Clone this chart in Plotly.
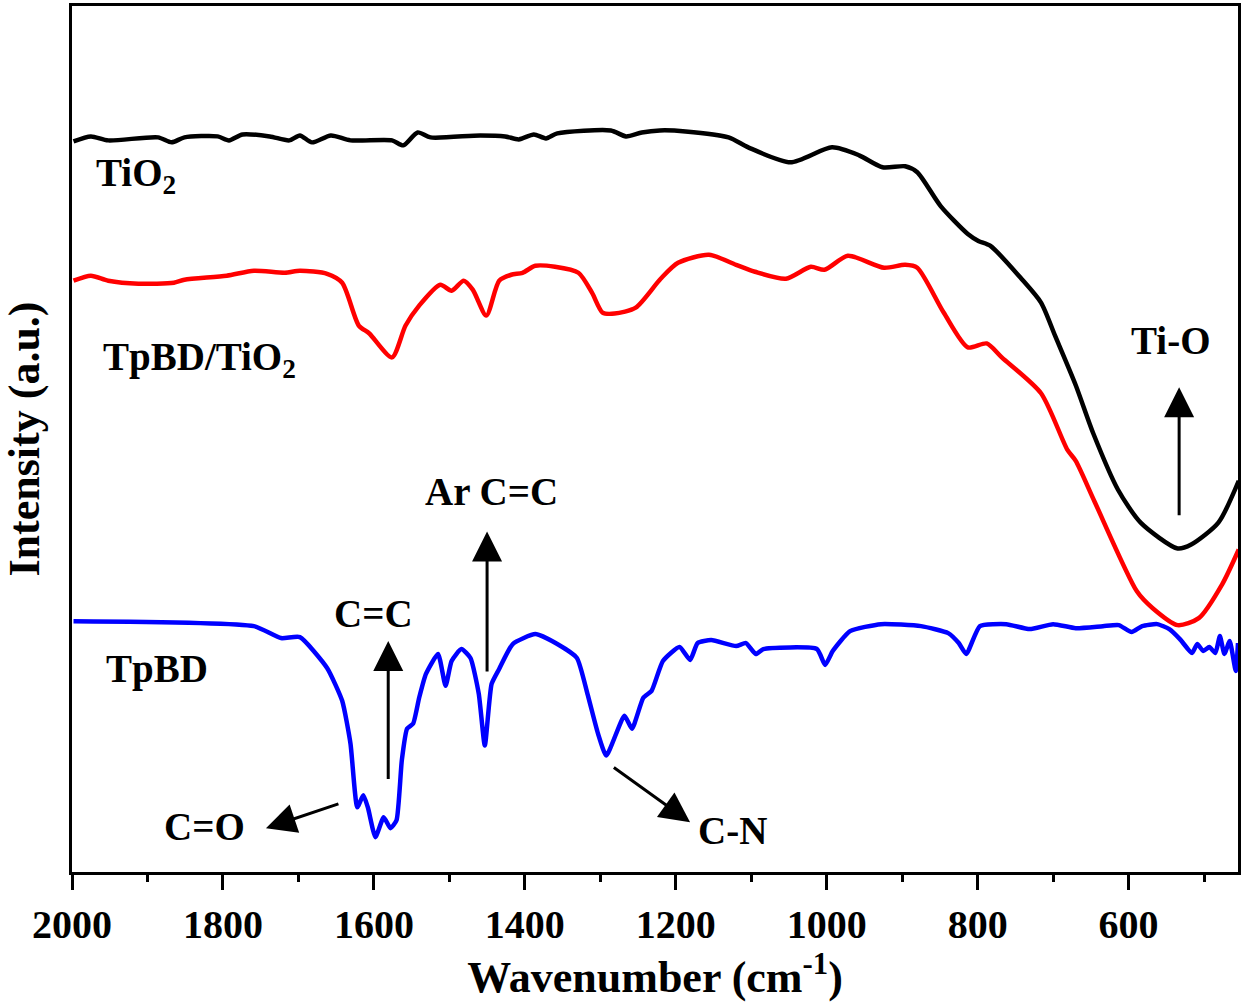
import plotly.graph_objects as go

# FTIR spectra, wavenumber (cm-1) vs intensity (a.u.)
tio2_wn = [1998, 1975, 1952, 1886, 1868, 1851, 1807, 1792, 1774, 1738, 1712, 1698, 1682, 1657,
           1631, 1576, 1561, 1542, 1525, 1459, 1426, 1408, 1388, 1372, 1357, 1286, 1266, 1245,
           1221, 1187, 1130, 1104, 1048, 993, 957, 926, 896, 880, 849, 813, 799, 783, 742, 716,
           697, 670, 647, 614, 584, 535, 517, 481, 454]
tio2_int = [73.4, 73.9, 73.5, 73.8, 73.3, 73.8, 73.9, 73.5, 74.1, 73.9, 73.5, 74.0, 73.3, 74.0,
            73.5, 73.5, 73.0, 74.3, 73.8, 74.0, 73.9, 73.6, 74.1, 73.7, 74.2, 74.5, 73.9, 74.3,
            74.5, 74.4, 73.8, 72.8, 71.3, 72.8, 72.0, 70.8, 70.9, 70.3, 66.9, 64.1, 63.4, 62.9,
            59.6, 57.2, 53.8, 48.9, 44.1, 38.4, 35.1, 32.5, 32.9, 35.1, 39.3]

comp_wn = [1998, 1975, 1952, 1912, 1865, 1851, 1795, 1759, 1718, 1698, 1662, 1642, 1620, 1606,
           1576, 1558, 1540, 1512, 1497, 1481, 1469, 1451, 1434, 1418, 1403, 1386, 1360, 1329,
           1311, 1297, 1281, 1253, 1220, 1197, 1156, 1120, 1095, 1054, 1021, 1003, 972, 924,
           896, 880, 845, 813, 788, 768, 716, 681, 670, 645, 589, 568, 535, 507, 476, 454]
comp_int = [59.4, 59.9, 59.4, 59.1, 59.2, 59.5, 59.9, 60.4, 60.2, 60.4, 60.1, 59.2, 54.9, 54.1,
            51.7, 54.9, 56.9, 59.0, 58.4, 59.4, 58.5, 55.9, 59.4, 60.0, 60.2, 60.9, 60.8, 60.2,
            58.2, 56.2, 56.1, 56.7, 59.6, 61.2, 62.0, 61.0, 60.3, 59.6, 60.8, 60.5, 61.9, 60.7,
            61.0, 60.7, 56.2, 52.7, 53.1, 51.7, 48.1, 42.4, 41.3, 37.2, 28.2, 26.5, 24.8, 25.5,
            28.9, 32.4]

tpbd_wn = [1998, 1759, 1723, 1698, 1662, 1642, 1631, 1622, 1614, 1608, 1598, 1587, 1578, 1570,
           1563, 1556, 1548, 1540, 1531, 1515, 1505, 1497, 1484, 1472, 1461, 1453, 1444, 1434,
           1416, 1386, 1357, 1331, 1317, 1303, 1292, 1268, 1258, 1243, 1232, 1217, 1195, 1181,
           1171, 1153, 1120, 1107, 1094, 1084, 1013, 1002, 992, 969, 928, 875, 839, 825, 815,
           797, 762, 731, 700, 670, 634, 613, 596, 582, 562, 546, 532, 516, 509, 501, 493, 485,
           479, 473, 466, 458, 455]
tpbd_int = [25.2, 24.7, 23.5, 23.6, 20.5, 17.2, 12.9, 6.5, 7.7, 6.5, 3.5, 5.5, 4.4, 5.2,
            11.2, 14.4, 14.9, 17.5, 19.9, 21.9, 18.7, 21.2, 22.4, 21.5, 17.9, 12.7, 18.9, 20.4,
            22.9, 23.9, 22.9, 21.5, 17.9, 13.9, 11.7, 15.7, 14.4, 17.5, 18.2, 21.2, 22.6, 21.3,
            23.0, 23.3, 22.7, 23.0, 21.9, 22.4, 22.4, 20.8, 22.2, 24.2, 24.9, 24.7, 24.0, 23.0, 21.9,
            24.7, 24.9, 24.4, 24.9, 24.5, 24.7, 24.8, 24.1, 24.7, 24.9, 24.4, 23.4, 22.0, 22.9, 22.2,
            22.6, 22.0, 23.7, 21.9, 23.2, 20.2, 23.0]

# label text, position (wavenumber, intensity), anchor
labels = [
    ("TiO<sub>2</sub>", 1971, 70.0, "left"),
    ("TpBD/TiO<sub>2</sub>", 1961, 51.5, "left"),
    ("TpBD", 1958, 20.4, "left"),
    ("Ar C=C", 1444, 38.2, "center"),
    ("C=C", 1600, 26.0, "center"),
    ("C=O", 1825, 4.6, "center"),
    ("C-N", 1125, 4.2, "center"),
    ("Ti-O", 544, 53.4, "center"),
]
# arrows: head (wn, int), tail (wn, int)
arrows = [
    (1581, 23.2, 1581, 9.2),
    (1450, 34.2, 1450, 20.0),
    (533, 48.7, 533, 35.7),
    (1743, 4.4, 1645, 6.9),
    (1181, 5.0, 1284, 10.6),
]

font = "Liberation Serif"

fig = go.Figure()
fig.add_trace(go.Scatter(x=tio2_wn, y=tio2_int, mode="lines",
                         line=dict(color="black", width=4.5, shape="spline", smoothing=0.7), name="TiO2"))
fig.add_trace(go.Scatter(x=comp_wn, y=comp_int, mode="lines",
                         line=dict(color="#ff0000", width=4.5, shape="spline", smoothing=0.7), name="TpBD/TiO2"))
fig.add_trace(go.Scatter(x=tpbd_wn, y=tpbd_int, mode="lines",
                         line=dict(color="#0000ff", width=4.5, shape="spline", smoothing=0.5), name="TpBD"))

for txt, x, y, anchor in labels:
    fig.add_annotation(x=x, y=y, text=txt, showarrow=False, xanchor=anchor, yanchor="middle",
                       font=dict(family=font, size=39, color="black", weight="bold"))

for hx, hy, tx, ty in arrows:
    fig.add_annotation(x=hx, y=hy, ax=tx, ay=ty, axref="x", ayref="y", text="",
                       showarrow=True, arrowhead=2, arrowsize=2, arrowwidth=3, arrowcolor="black")

fig.update_xaxes(range=[2000, 455], showline=True, linewidth=3, linecolor="black", mirror=True,
                 ticks="outside", tickvals=[2000, 1800, 1600, 1400, 1200, 1000, 800, 600],
                 ticklen=15, tickwidth=3, tickcolor="black",
                 minor=dict(tickvals=[1900, 1700, 1500, 1300, 1100, 900, 700, 500], ticks="outside",
                            ticklen=7, tickwidth=3, tickcolor="black"),
                 showgrid=False, zeroline=False,
                 tickfont=dict(family=font, size=40, color="black", weight="bold"),
                 title=dict(text="Wavenumber (cm<sup>-1</sup>)", standoff=8,
                            font=dict(family=font, size=44, color="black", weight="bold")))
fig.update_yaxes(range=[0, 87], showline=True, linewidth=3, linecolor="black", mirror=True,
                 showticklabels=False, ticks="", showgrid=False, zeroline=False,
                 title=dict(text="Intensity (a.u.)", standoff=33,
                            font=dict(family=font, size=44, color="black", weight="bold")))

fig.update_layout(width=1244, height=1003, margin=dict(l=72, r=6, t=3, b=131),
                  plot_bgcolor="white", paper_bgcolor="white", showlegend=False)

fig.write_html("out.html", config={"displayModeBar": False},
               post_script="document.body.style.margin='0';")
